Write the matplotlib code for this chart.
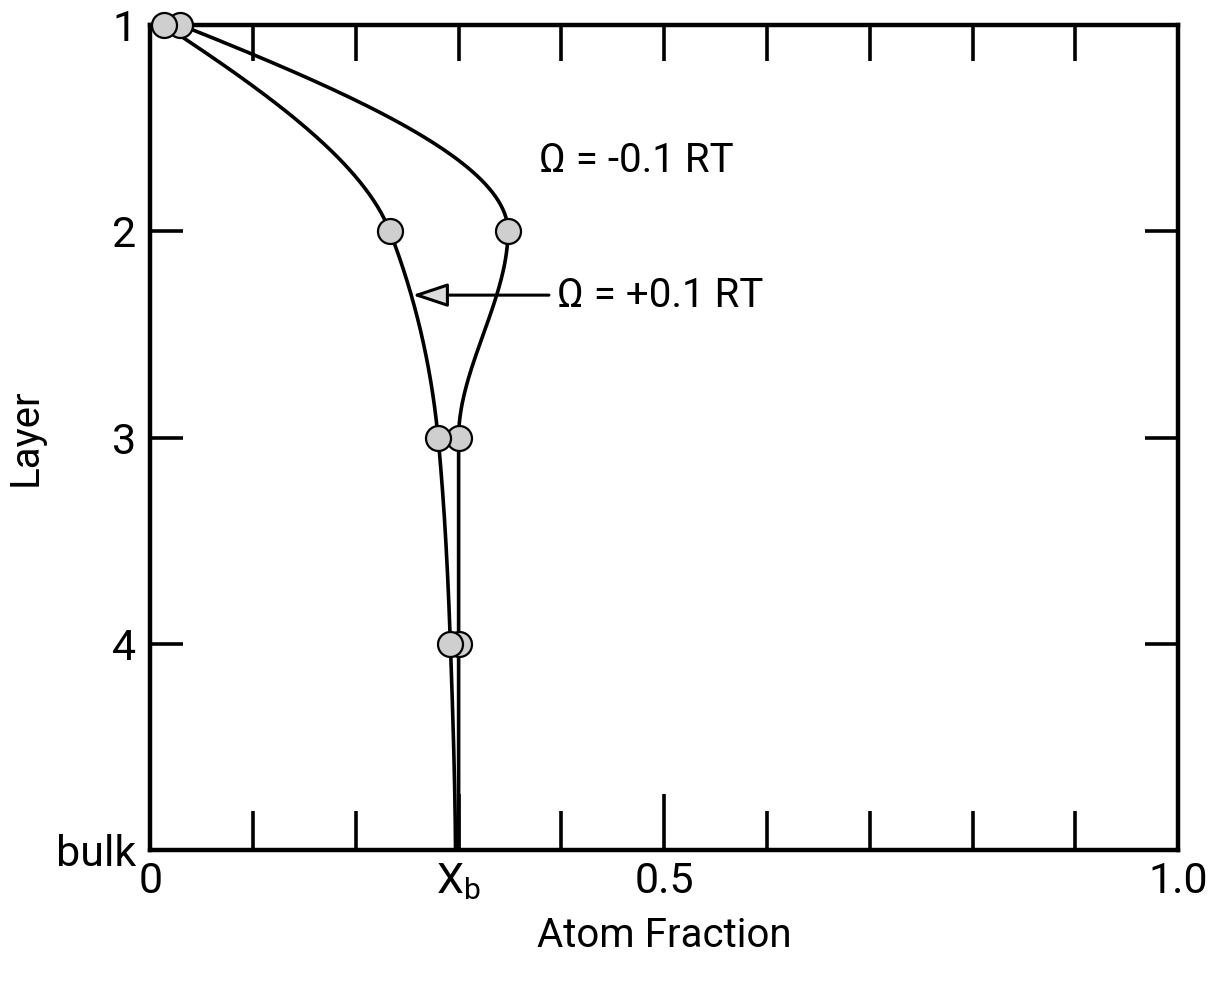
import matplotlib.pyplot as plt
import numpy as np

plt.rcParams['font.family'] = ['Roboto', 'DejaVu Sans']
plt.rcParams['mathtext.default'] = 'regular'

# layer index (1 = surface, 5 = bulk) and atom fractions
layers = [1, 2, 3, 4, 5]
layer_labels = ['1', '2', '3', '4', 'bulk']
frac_neg = [0.029, 0.348, 0.300, 0.300, 0.300]   # Omega = -0.1 RT
frac_pos = [0.013, 0.233, 0.280, 0.292, 0.297]   # Omega = +0.1 RT
x_bulk = 0.30
xtick_vals = [0, x_bulk, 0.5, 1.0]
xtick_labels = ['0', '$X_b$', '0.5', '1.0']


def pchip(xk, yk, xs):
    # monotone cubic through the points, keeps the curves from overshooting
    xk = np.asarray(xk, float)
    yk = np.asarray(yk, float)
    h = np.diff(xk)
    d = np.diff(yk) / h
    n = len(xk)
    m = np.zeros(n)
    for i in range(1, n - 1):
        if d[i - 1] * d[i] > 0:
            w1 = 2 * h[i] + h[i - 1]
            w2 = h[i] + 2 * h[i - 1]
            m[i] = (w1 + w2) / (w1 / d[i - 1] + w2 / d[i])
    m[0] = ((2 * h[0] + h[1]) * d[0] - h[0] * d[1]) / (h[0] + h[1])
    if np.sign(m[0]) != np.sign(d[0]):
        m[0] = 0
    m[-1] = ((2 * h[-1] + h[-2]) * d[-1] - h[-1] * d[-2]) / (h[-1] + h[-2])
    if np.sign(m[-1]) != np.sign(d[-1]):
        m[-1] = 0
    out = np.empty_like(xs)
    for j, x in enumerate(xs):
        i = min(max(np.searchsorted(xk, x) - 1, 0), n - 2)
        t = (x - xk[i]) / h[i]
        h00 = 2 * t**3 - 3 * t**2 + 1
        h10 = t**3 - 2 * t**2 + t
        h01 = -2 * t**3 + 3 * t**2
        h11 = t**3 - t**2
        out[j] = h00 * yk[i] + h10 * h[i] * m[i] + h01 * yk[i + 1] + h11 * h[i] * m[i + 1]
    return out


fig = plt.figure(figsize=(12.12, 9.91), dpi=100)
ax = fig.add_axes([0.124, 0.142, 0.848, 0.833])

ys = np.linspace(1, 5, 400)
for fr in (frac_neg, frac_pos):
    ax.plot(pchip(layers, fr, ys), ys, color='black', lw=2.6,
            solid_capstyle='round', clip_on=False)
    ax.plot(fr[:4], layers[:4], 'o', ms=18, mfc='#cfcfcf', mec='black',
            mew=1.6, clip_on=False, zorder=3)

ax.text(0.378, 1.66, 'Ω = -0.1 RT', fontsize=29, va='center', ha='left')
ax.annotate('Ω = +0.1 RT', xy=(0.255, 2.31), xytext=(0.396, 2.31),
            fontsize=29, va='center', ha='left',
            arrowprops=dict(arrowstyle='-|>,head_length=0.75,head_width=0.25',
                            fc='#dddddd', ec='black', lw=2.2,
                            shrinkA=4, shrinkB=0))

ax.set_xlim(0, 1.0)
ax.set_ylim(5, 1)

ax.set_yticks(layers)
ax.set_yticklabels(layer_labels)
ax.set_xticks(xtick_vals)
ax.set_xticklabels(xtick_labels)
ax.set_xticks(np.arange(1, 10) / 10, minor=True)

ax.tick_params(axis='y', direction='in', length=24, width=2.6, right=True,
               labelsize=31, pad=10)
ax.tick_params(axis='x', which='major', direction='in', length=40, width=2.6,
               labelsize=31, pad=8)
ax.tick_params(axis='x', which='minor', direction='in', length=28, width=2.6)

top = ax.secondary_xaxis('top')
top.set_xticks(np.arange(1, 10) / 10)
top.tick_params(direction='in', length=26, width=2.6, labeltop=False)
top.spines['top'].set_visible(False)

for s in ax.spines.values():
    s.set_linewidth(3.2)

ax.set_xlabel('Atom Fraction', fontsize=29, labelpad=10)
ax.set_ylabel('Layer', fontsize=29)
ax.yaxis.set_label_coords(-0.103, 0.5)

fig.savefig('out.png', dpi=100)
